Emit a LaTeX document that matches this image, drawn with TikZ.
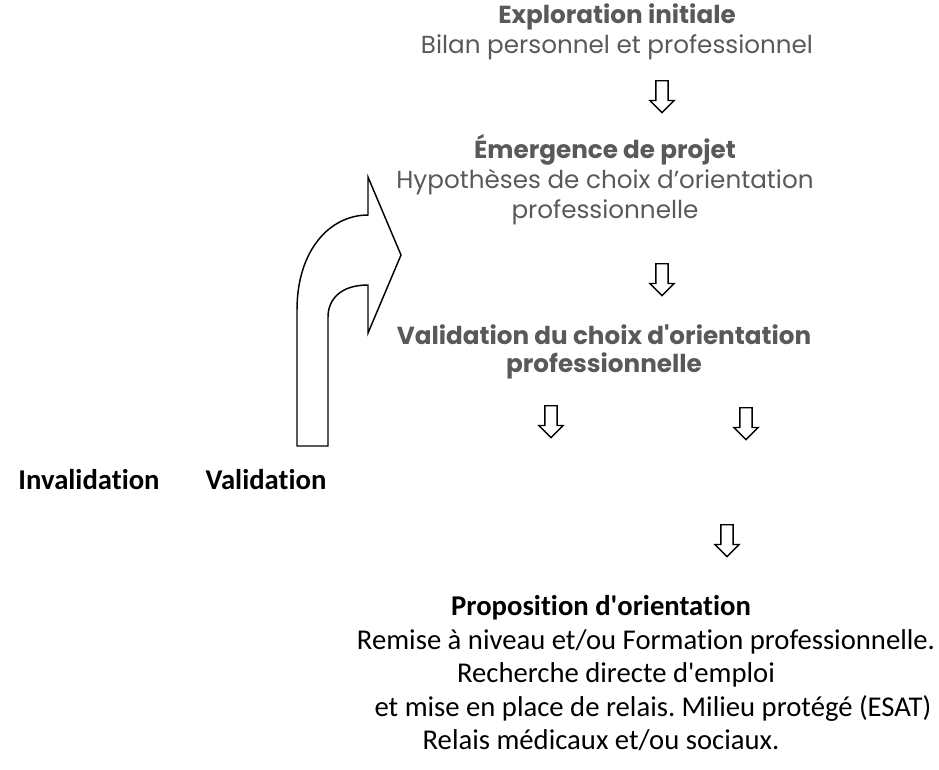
\documentclass[tikz,border=0pt]{standalone}
\usepackage{fontspec}
\setmainfont{Carlito}[Ligatures={NoCommon}]
\newfontfamily\gothique{Poppins}
\usetikzlibrary{shapes.arrows,positioning}
\frenchspacing

\definecolor{grisfonce}{RGB}{89,89,89}

\begin{document}
\begin{tikzpicture}[x=0.75pt,y=-0.75pt,
titregris/.style={font=\gothique\fontsize{18.5}{22.5}\selectfont, text=grisfonce, align=center, inner sep=0pt},
texteprop/.style={font=\fontsize{21.5}{26}\selectfont, inner sep=0pt},
fleche/.style={single arrow, draw=black, line width=1pt, rotate=-90, minimum height=24pt, minimum width=17.25pt, single arrow head extend=4.5pt, inner xsep=0pt, inner ysep=4.1pt, anchor=tail},
]
\useasboundingbox (0,0) rectangle (939,769);

%Nodes
\node[titregris] (exploration) at (617,32) {\textbf{Exploration initiale}\\ Bilan personnel et professionnel};
\node[titregris] (emergence)   at (605,180) {\textbf{Émergence de projet}\\ Hypothèses de choix d’orientation\\ professionnelle};
\node[titregris, font=\gothique\fontsize{18.5}{21}\selectfont] (validation) at (604,352) {\textbf{Validation du choix d\textquotesingle orientation}\\ \textbf{professionnelle}};

\node[texteprop] (invalidation) at (89,480)  {\textbf{Invalidation}};
\node[texteprop] (valide)       at (266,480) {\textbf{Validation}};

\node[texteprop] (proposition) at (601,608) {\textbf{Proposition d\textquotesingle orientation}};
\node[texteprop] (remise)      at (646,642) {Remise à niveau et/ou Formation professionnelle.};
\node[texteprop] (recherche)   at (616,675) {Recherche directe d\textquotesingle emploi};
\node[texteprop] (relais)      at (653,708) {et mise en place de relais. Milieu protégé (ESAT)};
\node[texteprop] (medicaux)    at (601,740) {Relais médicaux et/ou sociaux.};

%Arrows
\node[fleche] (f1) at (662,80)  {};
\node[fleche] (f2) at (662,263) {};
\node[fleche] (f3) at (551,405) {};
\node[fleche] (f4) at (746,407) {};
\node[fleche] (f5) at (727,524) {};

%Big arrow
\draw[line width=1.1pt, line join=miter] (297,446) -- (328,446) -- (328,317)
  .. controls (328,300) and (340,285) .. (368,285) -- (368,333) -- (401,255) -- (368,177) -- (368,215)
  .. controls (330,215) and (297,250) .. (297,310) -- cycle;

\end{tikzpicture}
\end{document}
